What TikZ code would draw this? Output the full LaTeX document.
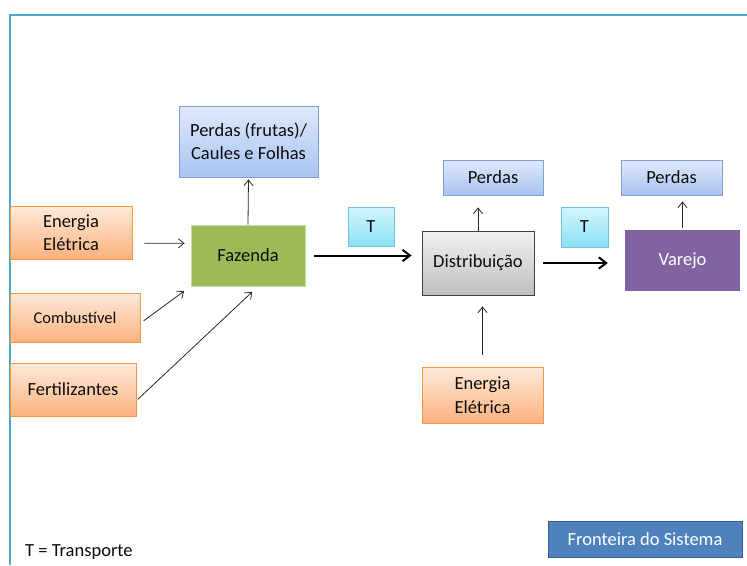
\documentclass[tikz,border=0pt]{standalone}
\usepackage{fontspec}
\setmainfont{Carlito}
\usetikzlibrary{arrows.meta,positioning}
\definecolor{frameteal}{RGB}{75,172,198}
\definecolor{lossblue}{RGB}{126,160,214}
\definecolor{losstop}{RGB}{222,232,251}
\definecolor{lossbot}{RGB}{168,196,240}
\definecolor{inorange}{RGB}{247,150,70}
\definecolor{intop}{RGB}{254,234,218}
\definecolor{inbot}{RGB}{251,178,126}
\definecolor{farmgreen}{RGB}{155,187,89}
\definecolor{farmedge}{RGB}{200,218,160}
\definecolor{tedge}{RGB}{110,195,220}
\definecolor{ttop}{RGB}{212,246,253}
\definecolor{tbot}{RGB}{138,224,246}
\definecolor{disttop}{RGB}{242,242,242}
\definecolor{distbot}{RGB}{190,190,190}
\definecolor{retailpurple}{RGB}{128,100,162}
\definecolor{legendblue}{RGB}{79,129,189}
\definecolor{legendedge}{RGB}{56,93,138}
\tikzset{
  box/.style={rectangle, inner sep=0pt, align=center, text=black!95,
              font=\fontsize{18.5}{23.5}\selectfont},
  lossbox/.style={box, draw=lossblue, thick, top color=losstop, bottom color=lossbot},
  inbox/.style={box, draw=inorange, thick, top color=intop, bottom color=inbot},
  farmbox/.style={box, draw=farmedge, thick, fill=farmgreen},
  tbox/.style={box, draw=tedge, thick, top color=ttop, bottom color=tbot},
  distbox/.style={box, draw=black!75, thick, top color=disttop, bottom color=distbot},
  retailbox/.style={box, fill=retailpurple, text=white},
  legendbox/.style={box, draw=legendedge, thick, fill=legendblue, text=white},
  arrow/.style={-{Straight Barb[length=2mm, width=3.2mm]}, black!85, line width=0.8pt},
  flowarrow/.style={-{Straight Barb[length=2.6mm, width=4mm]}, black, line width=2pt},
}
\begin{document}
\begin{tikzpicture}[x=1pt, y=-1pt]
\useasboundingbox (0,0) rectangle (747,565);
% system boundary
\draw[frameteal, line width=1.5pt] (10,565) -- (10,15) -- (747,15);

\node[lossbox, minimum width=139pt, minimum height=71pt] (perdasF) at (248.5,141.5) {Perdas (frutas)/\\Caules e Folhas};
\node[inbox, minimum width=122pt, minimum height=53pt] (energiaA) at (71,232.5) {Energia\\El\'etrica};
\node[inbox, minimum width=130pt, minimum height=49pt, font=\fontsize{16.5}{20}\selectfont] (combust) at (75,317.5) {Combust\'ivel};
\node[inbox, minimum width=126pt, minimum height=53pt] (fert) at (73,389.5) {Fertilizantes};
\node[farmbox, minimum width=114pt, minimum height=61pt] (fazenda) at (248,255.5) {Fazenda};
\node[tbox, minimum width=46pt, minimum height=39pt] (t1) at (371,226.5) {T};
\node[distbox, minimum width=112pt, minimum height=64pt] (dist) at (478,263) {Distribui\c{c}\~ao};
\node[lossbox, minimum width=100pt, minimum height=35pt] (perdasD) at (493,177.5) {Perdas};
\node[tbox, minimum width=47pt, minimum height=40pt] (t2) at (584.5,227) {T};
\node[retailbox, minimum width=115pt, minimum height=61pt] (varejo) at (682.5,260.5) {Varejo};
\node[lossbox, minimum width=101pt, minimum height=35pt] (perdasV) at (671.5,177.5) {Perdas};
\node[inbox, minimum width=121pt, minimum height=56pt] (energiaB) at (482.5,395) {Energia\\El\'etrica};
\node[legendbox, minimum width=194pt, minimum height=36pt] (fronteira) at (645,539) {Fronteira do Sistema};
\node[box, anchor=west] (legenda) at (25,552) {T = Transporte};

% inputs to the farm
\draw[arrow, shorten <=12pt, shorten >=6pt] (energiaA.-10) -- (fazenda.168);
\draw[arrow, shorten <=4pt, shorten >=8pt] (combust.-5) -- (fazenda.south west);
\draw[arrow, shorten <=2pt, shorten >=8pt] (fert.-10) -- (fazenda.-72);
\draw[arrow, shorten >=2pt] (fazenda.north) -- (perdasF.south);
% main flow
\draw[flowarrow, shorten <=9pt, shorten >=10pt] (fazenda.east) -- (fazenda.east -| dist.west);
\draw[flowarrow, shorten <=9pt, shorten >=17pt] (dist.east) -- (dist.east -| varejo.west);
% losses and energy
\draw[arrow, shorten >=12pt] (dist.north) -- (dist.north |- perdasD.south);
\draw[arrow, shorten <=2pt, shorten >=6pt] (varejo.north) -- (varejo.north |- perdasV.south);
\draw[arrow, shorten <=12pt, shorten >=11pt] (energiaB.north) -- (energiaB.north |- dist.south);
\end{tikzpicture}
\end{document}
